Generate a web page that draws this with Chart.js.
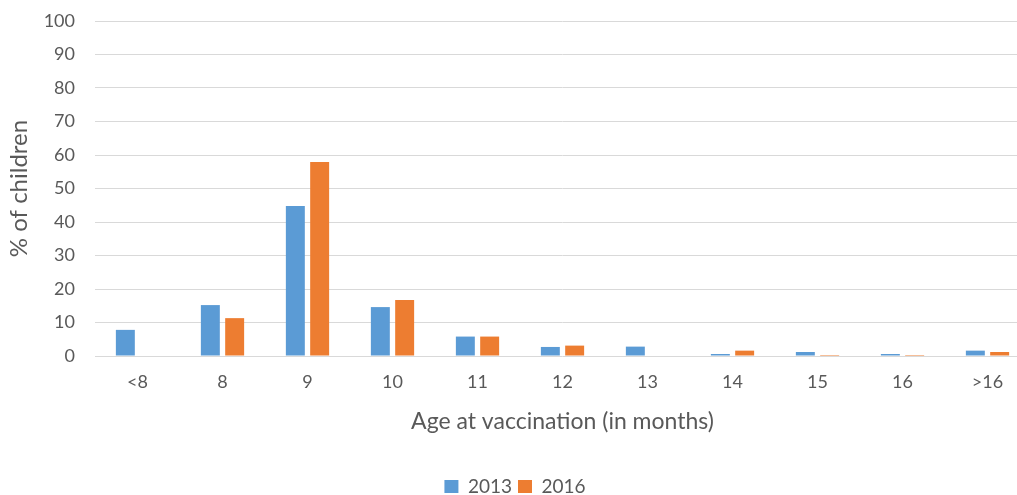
<!DOCTYPE html>
<html>
<head>
<meta charset="utf-8">
<script src="https://cdn.jsdelivr.net/npm/chart.js@4"></script>
<style>
  html, body { margin: 0; padding: 0; background: #ffffff; overflow: hidden; }
  #wrap { position: absolute; left: 0; top: 0; width: 1040px; height: 506px; }
</style>
</head>
<body>
<div id="wrap"><canvas id="chart" width="1040" height="506"></canvas></div>
<script>
// Age at measles vaccination, share of children per survey year
const categories = ['<8', '8', '9', '10', '11', '12', '13', '14', '15', '16', '>16'];
const values2013 = [7.8, 15.2, 44.8, 14.6, 5.8, 2.7, 2.8, 0.6, 1.2, 0.6, 1.6];
const values2016 = [0, 11.3, 57.9, 16.7, 5.8, 3.1, 0, 1.6, 0.3, 0.3, 1.2];
const yTicks = [0, 10, 20, 30, 40, 50, 60, 70, 80, 90, 100];

const FONT = 'Lato, "Open Sans", sans-serif';
const TEXT = '#595959';

new Chart(document.getElementById('chart'), {
  type: 'bar',
  data: {
    labels: categories,
    datasets: [
      { label: '2013', data: values2013, backgroundColor: '#5B9BD5' },
      { label: '2016', data: values2016, backgroundColor: '#ED7D31' }
    ]
  },
  options: {
    responsive: false,
    animation: false,
    layout: { padding: { top: 21, left: 0, right: 10, bottom: 0 } },
    datasets: { bar: { categoryPercentage: 0.572, barPercentage: 0.78 } },
    plugins: {
      legend: {
        position: 'bottom',
        labels: {
          font: { family: FONT, size: 19 },
          color: TEXT,
          boxWidth: 14,
          boxHeight: 13,
          padding: 6
        }
      },
      tooltip: { enabled: false }
    },
    scales: {
      x: {
        grid: { display: false },
        border: { display: false },
        ticks: { font: { family: FONT, size: 18 }, color: TEXT, padding: 7 },
        title: {
          display: true,
          text: 'Age at vaccination (in months)',
          font: { family: FONT, size: 23 },
          color: TEXT,
          padding: { top: 4, bottom: 36 }
        },
        afterFit(scale) { scale.height = 115; }
      },
      y: {
        min: 0,
        max: 100,
        afterBuildTicks(scale) { scale.ticks = yTicks.map(v => ({ value: v })); },
        grid: { color: '#d9d9d9', lineWidth: 1, drawTicks: true, tickLength: 16, tickColor: 'rgba(0,0,0,0)' },
        border: { display: false },
        ticks: { font: { family: FONT, size: 18 }, color: TEXT, padding: 4 },
        title: {
          display: true,
          text: '% of children',
          font: { family: FONT, size: 24 },
          color: TEXT,
          padding: { top: 5, bottom: 6 }
        },
        afterFit(scale) { scale.width = 95; }
      }
    }
  }
});
</script>
</body>
</html>
